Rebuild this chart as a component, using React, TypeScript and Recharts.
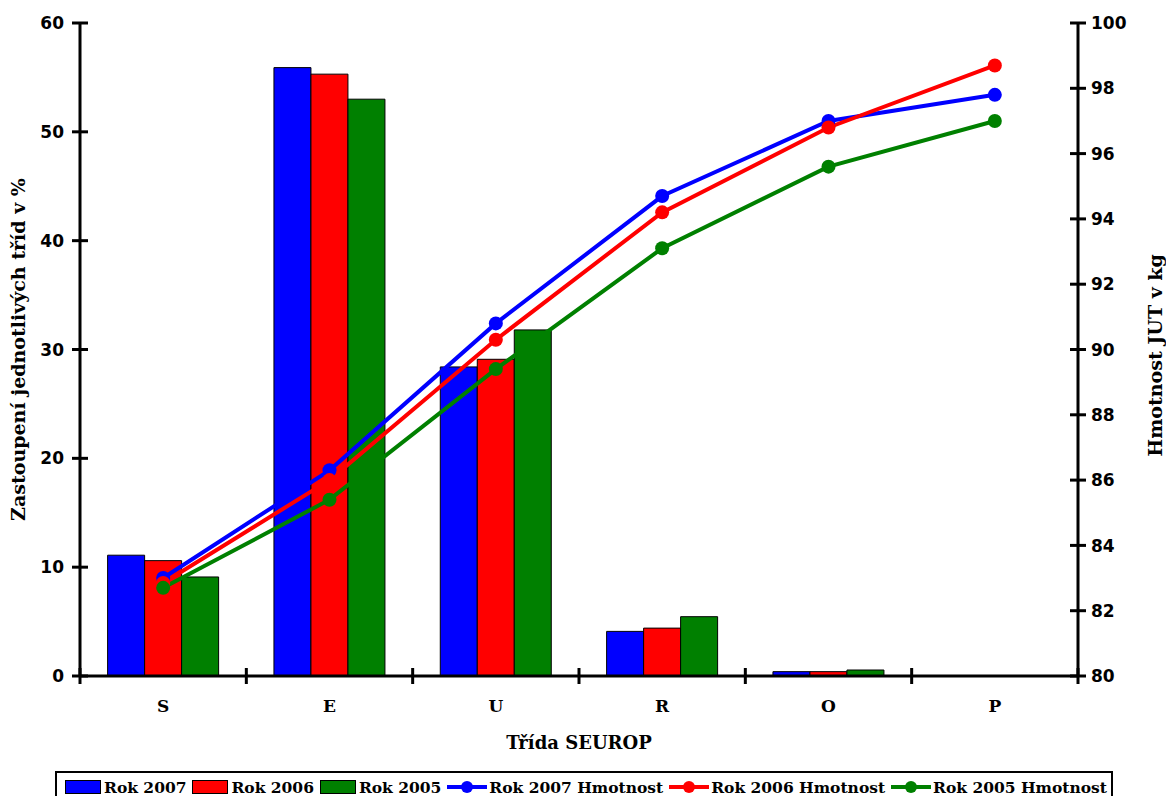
import React from 'react';
import { ComposedChart, Bar, Line, XAxis, YAxis, Label } from 'recharts';

const categories = ['S', 'E', 'U', 'R', 'O', 'P'];
const share2007 = [11.1, 55.9, 28.4, 4.1, 0.4, null];
const share2006 = [10.6, 55.3, 29.1, 4.4, 0.4, null];
const share2005 = [9.1, 53.0, 31.8, 5.45, 0.55, null];
const weight2007 = [83.0, 86.3, 90.8, 94.7, 97.0, 97.8];
const weight2006 = [82.85, 86.0, 90.3, 94.2, 96.8, 98.7];
const weight2005 = [82.7, 85.4, 89.4, 93.1, 95.6, 97.0];
const leftTicks = [0, 10, 20, 30, 40, 50, 60];
const rightTicks = [80, 82, 84, 86, 88, 90, 92, 94, 96, 98, 100];

const BLUE = '#0000FF';
const RED = '#FF0000';
const GREEN = '#008000';

const data = categories.map((c, i) => ({
  cat: c,
  b2007: share2007[i],
  b2006: share2006[i],
  b2005: share2005[i],
  w2007: weight2007[i],
  w2006: weight2006[i],
  w2005: weight2005[i],
}));

const NUM_FONT = 'DejaVu Sans';
const SERIF = 'DejaVu Serif';

const LeftTick = (props: any) => {
  const { x, y, payload } = props;
  return (
    <g>
      <line x1={x - 8} x2={x + 8} y1={y} y2={y} stroke="#000" strokeWidth={3} />
      <text x={x - 16} y={y} dy="0.36em" textAnchor="end" fontFamily={NUM_FONT} fontWeight="bold" fontSize={17} fill="#000">
        {payload.value}
      </text>
    </g>
  );
};

const RightTick = (props: any) => {
  const { x, y, payload } = props;
  return (
    <g>
      <line x1={x - 8} x2={x + 8} y1={y} y2={y} stroke="#000" strokeWidth={3} />
      <text x={x + 13} y={y} dy="0.36em" textAnchor="start" fontFamily={NUM_FONT} fontWeight="bold" fontSize={17} fill="#000">
        {payload.value}
      </text>
    </g>
  );
};

const XTick = (props: any) => {
  const { x, y, payload, index } = props;
  const half = typeof payload.offset === 'number' && payload.offset > 0 ? payload.offset : 998 / 12;
  return (
    <g>
      <line x1={x - half} x2={x - half} y1={y - 8} y2={y + 8} stroke="#000" strokeWidth={3} />
      {index === categories.length - 1 && (
        <line x1={x + half} x2={x + half} y1={y - 8} y2={y + 8} stroke="#000" strokeWidth={3} />
      )}
      <text x={x} y={y + 36} textAnchor="middle" fontFamily={SERIF} fontWeight="bold" fontSize={17} fill="#000">
        {payload.value}
      </text>
    </g>
  );
};

const LeftTitle = (props: any) => {
  const vb = props.viewBox || {};
  const cy = vb.y + vb.height / 2;
  const cx = 18;
  return (
    <text x={cx} y={cy} transform={`rotate(-90 ${cx} ${cy})`} textAnchor="middle" dominantBaseline="central" fontFamily={SERIF} fontWeight="bold" fontSize={19} fill="#000">
      Zastoupení jednotlivých tříd v %
    </text>
  );
};

const RightTitle = (props: any) => {
  const vb = props.viewBox || {};
  const cy = vb.y + vb.height / 2 + 6;
  const cx = vb.x + 77;
  return (
    <text x={cx} y={cy} transform={`rotate(-90 ${cx} ${cy})`} textAnchor="middle" dominantBaseline="central" fontFamily={SERIF} fontWeight="bold" fontSize={19} fill="#000">
      Hmotnost JUT v kg
    </text>
  );
};

const BottomTitle = (props: any) => {
  const vb = props.viewBox || {};
  const cx = vb.x + vb.width / 2;
  return (
    <text x={cx} y={vb.y + 73} textAnchor="middle" fontFamily={SERIF} fontWeight="bold" fontSize={18} fill="#000">
      Třída SEUROP
    </text>
  );
};

const legendItems = [
  { type: 'bar', color: BLUE, label: 'Rok 2007' },
  { type: 'bar', color: RED, label: 'Rok 2006' },
  { type: 'bar', color: GREEN, label: 'Rok 2005' },
  { type: 'line', color: BLUE, label: 'Rok 2007 Hmotnost' },
  { type: 'line', color: RED, label: 'Rok 2006 Hmotnost' },
  { type: 'line', color: GREEN, label: 'Rok 2005 Hmotnost' },
];

const LegendBox = () => (
  <div
    style={{
      position: 'absolute',
      left: 55,
      top: 771,
      width: 1058,
      height: 34,
      border: '2px solid #000',
      boxSizing: 'border-box',
      display: 'flex',
      alignItems: 'flex-start',
      justifyContent: 'space-between',
      padding: '5px 4px 0 8px',
      background: '#fff',
    }}
  >
    {legendItems.map((it) => (
      <div key={it.label} style={{ display: 'flex', alignItems: 'center', height: 18 }}>
        <svg width={it.type === 'bar' ? 37 : 40} height={16} style={{ display: 'block' }}>
          {it.type === 'bar' ? (
            <rect x={0.5} y={1.5} width={35} height={13} fill={it.color} stroke="#000" strokeWidth={1} />
          ) : (
            <g>
              <line x1={0} x2={40} y1={8} y2={8} stroke={it.color} strokeWidth={4} />
              <circle cx={20} cy={8} r={6} fill={it.color} />
            </g>
          )}
        </svg>
        <span
          style={{
            fontFamily: SERIF,
            fontWeight: 'bold',
            fontSize: 15.5,
            color: '#000',
            marginLeft: 2,
            whiteSpace: 'nowrap',
          }}
        >
          {it.label}
        </span>
      </div>
    ))}
  </div>
);

export default function App() {
  return (
    <div style={{ position: 'absolute', left: 0, top: 0, width: 1166, height: 796, background: '#fff', overflow: 'hidden' }}>
      <ComposedChart
        width={1166}
        height={796}
        data={data}
        margin={{ top: 23, right: 0, bottom: 0, left: 0 }}
        barCategoryGap="16.6%"
        barGap={0}
      >
        <XAxis
          dataKey="cat"
          height={120}
          interval={0}
          tickSize={0}
          tickMargin={0}
          tickLine={false}
          axisLine={{ stroke: '#000', strokeWidth: 3 }}
          tick={<XTick />}
        >
          <Label content={<BottomTitle />} />
        </XAxis>
        <YAxis
          yAxisId="left"
          orientation="left"
          width={80}
          domain={[0, 60]}
          ticks={leftTicks}
          interval={0}
          allowDataOverflow
          tickSize={0}
          tickMargin={0}
          tickLine={false}
          axisLine={{ stroke: '#000', strokeWidth: 3 }}
          tick={<LeftTick />}
        >
          <Label content={<LeftTitle />} />
        </YAxis>
        <YAxis
          yAxisId="right"
          orientation="right"
          width={88}
          domain={[80, 100]}
          ticks={rightTicks}
          interval={0}
          allowDataOverflow
          tickSize={0}
          tickMargin={0}
          tickLine={false}
          axisLine={{ stroke: '#000', strokeWidth: 3 }}
          tick={<RightTick />}
        >
          <Label content={<RightTitle />} />
        </YAxis>
        <Bar yAxisId="left" dataKey="b2007" fill={BLUE} stroke="#000" strokeWidth={1} isAnimationActive={false} />
        <Bar yAxisId="left" dataKey="b2006" fill={RED} stroke="#000" strokeWidth={1} isAnimationActive={false} />
        <Bar yAxisId="left" dataKey="b2005" fill={GREEN} stroke="#000" strokeWidth={1} isAnimationActive={false} />
        <Line yAxisId="right" dataKey="w2007" stroke={BLUE} strokeWidth={4} dot={{ r: 7, fill: BLUE, stroke: BLUE, strokeWidth: 0 }} activeDot={false} isAnimationActive={false} />
        <Line yAxisId="right" dataKey="w2006" stroke={RED} strokeWidth={4} dot={{ r: 7, fill: RED, stroke: RED, strokeWidth: 0 }} activeDot={false} isAnimationActive={false} />
        <Line yAxisId="right" dataKey="w2005" stroke={GREEN} strokeWidth={4} dot={{ r: 7, fill: GREEN, stroke: GREEN, strokeWidth: 0 }} activeDot={false} isAnimationActive={false} />
      </ComposedChart>
      <LegendBox />
    </div>
  );
}
